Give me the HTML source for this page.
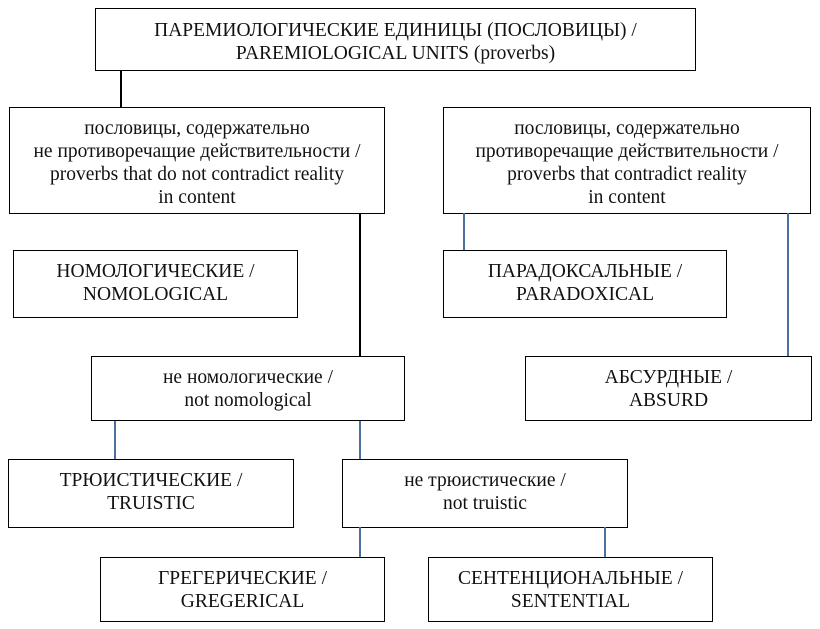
<!DOCTYPE html>
<html><head><meta charset="utf-8"><style>
body{margin:0;width:820px;height:629px;background:#fff;position:relative;overflow:hidden;font-family:"Liberation Serif",serif;font-size:19.5px;color:#111}
.b{position:absolute;border:1.5px solid #000;box-sizing:border-box;text-align:center;line-height:23px;padding-top:9px;white-space:nowrap}
.l{position:absolute;width:1.5px}
.k{background:#000}.u{background:#4a6fa0}
</style></head><body>
<div class="b" style="left:95px;top:8px;width:601px;height:63px;padding-top:10px">ПАРЕМИОЛОГИЧЕСКИЕ ЕДИНИЦЫ (ПОСЛОВИЦЫ) /<br>PAREMIOLOGICAL UNITS (proverbs)</div>
<div class="l k" style="left:120px;top:70px;height:38px"></div>
<div class="b" style="left:9px;top:107px;width:376px;height:107px">пословицы, содержательно<br>не противоречащие действительности /<br>proverbs that do not contradict reality<br>in content</div>
<div class="b" style="left:443px;top:107px;width:368px;height:107px">пословицы, содержательно<br>противоречащие действительности /<br>proverbs that contradict reality<br>in content</div>
<div class="l k" style="left:359px;top:213px;height:144px"></div>
<div class="l u" style="left:463px;top:213px;height:37px"></div>
<div class="l u" style="left:787px;top:213px;height:144px"></div>
<div class="b" style="left:13px;top:250px;width:285px;height:68px">НОМОЛОГИЧЕСКИЕ /<br>NOMOLOGICAL</div>
<div class="b" style="left:443px;top:250px;width:284px;height:68px">ПАРАДОКСАЛЬНЫЕ /<br>PARADOXICAL</div>
<div class="b" style="left:91px;top:356px;width:314px;height:65px">не номологические /<br>not nomological</div>
<div class="b" style="left:525px;top:356px;width:287px;height:65px">АБСУРДНЫЕ /<br>ABSURD</div>
<div class="l u" style="left:114px;top:421px;height:39px"></div>
<div class="l u" style="left:359px;top:421px;height:39px"></div>
<div class="b" style="left:8px;top:459px;width:286px;height:69px">ТРЮИСТИЧЕСКИЕ /<br>TRUISTIC</div>
<div class="b" style="left:342px;top:459px;width:286px;height:69px">не трюистические /<br>not truistic</div>
<div class="l u" style="left:359px;top:527px;height:30px"></div>
<div class="l u" style="left:604px;top:527px;height:30px"></div>
<div class="b" style="left:100px;top:557px;width:285px;height:65px">ГРЕГЕРИЧЕСКИЕ /<br>GREGERICAL</div>
<div class="b" style="left:428px;top:557px;width:285px;height:65px">СЕНТЕНЦИОНАЛЬНЫЕ /<br>SENTENTIAL</div>
</body></html>
